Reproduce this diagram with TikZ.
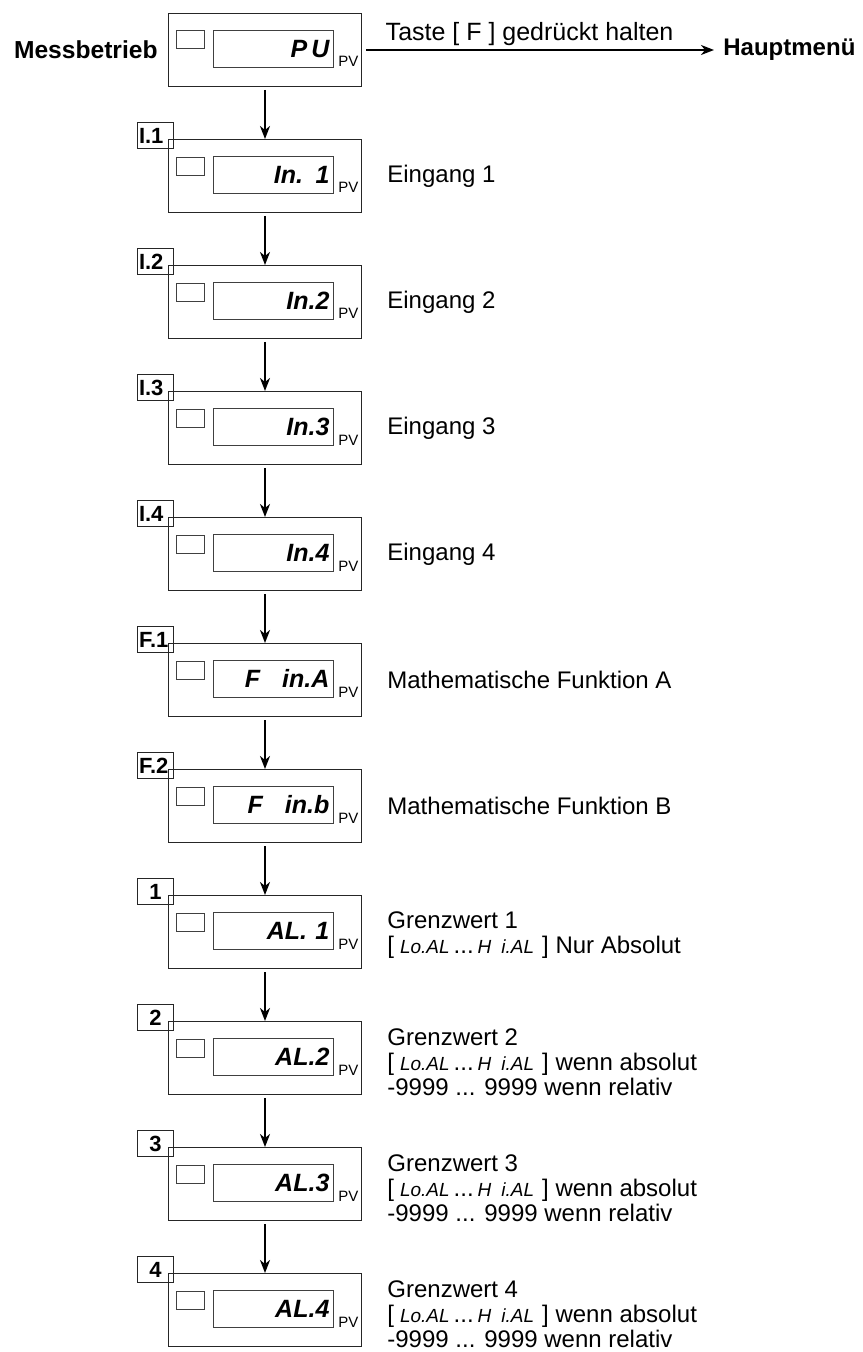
\documentclass[tikz,border=0pt]{standalone}
\usepackage{fontspec}
\setmainfont{Liberation Sans}
\usetikzlibrary{arrows.meta,positioning}
\newcommand{\segfont}{\bfseries\itshape}
\newcommand{\segtxt}[1]{{\itshape\fontsize{9.5}{10}\selectfont #1}}

\begin{document}
\begin{tikzpicture}[x=0.5pt, y=-0.5pt,
    box/.style={draw=black!85, line width=0.5pt, minimum width=96.5pt, minimum height=36.5pt, inner sep=0pt, anchor=north west},
    lamp/.style={draw=black!75, line width=0.4pt, minimum width=14pt, minimum height=9pt, inner sep=0pt, anchor=north west},
    disp/.style={draw=black!75, line width=0.4pt, minimum height=18.5pt, text width=56pt, inner xsep=2pt, inner ysep=0pt, align=right, anchor=north west, font=\segfont\fontsize{12.5}{13}\selectfont},
    pv/.style={anchor=base west, inner sep=0pt, font=\fontsize{7.5}{8}\selectfont},
    tag/.style={draw=black!85, line width=0.5pt, minimum height=13pt, text width=16.5pt, inner xsep=0.75pt, inner ysep=0pt, align=left, anchor=north west, font=\bfseries\fontsize{11}{12}\selectfont},
    info/.style={inner sep=0pt, align=left, font=\fontsize{12}{12.5}\selectfont},
    flow/.style={line width=1pt, -{Stealth[length=6.5pt, width=5pt, inset=2pt]}}]
    \useasboundingbox (0,0) rectangle (862,1352);
    %\draw[help lines, step=50] (0,0) grid (862,1352); %help grid
    % Messbetrieb
    \coordinate (B0) at (168,13);
    \node[box] (b0) at (B0) {};
    \node[lamp] (l0) at ([shift={(8,17)}]B0) {};
    \node[disp] (d0) at ([shift={(45,17)}]B0) {P\,U};
    \node[pv] (p0) at ([shift={(170,54)}]B0) {PV};
    \node[info, left=5pt of b0, font=\bfseries\fontsize{12.3}{12}\selectfont] (mb) {Messbetrieb};
    \node[inner xsep=4.5pt, inner ysep=0pt, anchor=west, font=\bfseries\fontsize{12}{12}\selectfont] (hm) at ([xshift=176pt]b0.east) {Hauptmenü};
    \draw[flow] ([xshift=2pt]b0.east) -- node[pos=0.47, above=1.5pt, inner sep=0pt, font=\fontsize{12.5}{12}\selectfont] (taste) {Taste [ F ] gedrückt halten} (hm.west);
    % Eingang 1
    \coordinate (B1) at (168,139);
    \node[box] (b1) at (B1) {};
    \node[lamp] (l1) at ([shift={(8,18)}]B1) {};
    \node[disp] (d1) at ([shift={(45,17)}]B1) {In. 1};
    \node[pv] (p1) at ([shift={(170,54)}]B1) {PV};
    \node[tag] (t1) at ([shift={(-31,-17)}]B1) {I.1};
    \node[info, right=12.5pt of b1] (e1) {Eingang 1};
    % Eingang 2
    \coordinate (B2) at (168,265);
    \node[box] (b2) at (B2) {};
    \node[lamp] (l2) at ([shift={(8,18)}]B2) {};
    \node[disp] (d2) at ([shift={(45,17)}]B2) {In.2};
    \node[pv] (p2) at ([shift={(170,54)}]B2) {PV};
    \node[tag] (t2) at ([shift={(-31,-17)}]B2) {I.2};
    \node[info, right=12.5pt of b2] (e2) {Eingang 2};
    % Eingang 3
    \coordinate (B3) at (168,391);
    \node[box] (b3) at (B3) {};
    \node[lamp] (l3) at ([shift={(8,18)}]B3) {};
    \node[disp] (d3) at ([shift={(45,17)}]B3) {In.3};
    \node[pv] (p3) at ([shift={(170,54)}]B3) {PV};
    \node[tag] (t3) at ([shift={(-31,-17)}]B3) {I.3};
    \node[info, right=12.5pt of b3] (e3) {Eingang 3};
    % Eingang 4
    \coordinate (B4) at (168,517);
    \node[box] (b4) at (B4) {};
    \node[lamp] (l4) at ([shift={(8,18)}]B4) {};
    \node[disp] (d4) at ([shift={(45,17)}]B4) {In.4};
    \node[pv] (p4) at ([shift={(170,54)}]B4) {PV};
    \node[tag] (t4) at ([shift={(-31,-17)}]B4) {I.4};
    \node[info, right=12.5pt of b4] (e4) {Eingang 4};
    % Funktion A
    \coordinate (B5) at (168,643);
    \node[box] (b5) at (B5) {};
    \node[lamp] (l5) at ([shift={(8,18)}]B5) {};
    \node[disp] (d5) at ([shift={(45,17)}]B5) {F\hspace{11pt}in.A};
    \node[pv] (p5) at ([shift={(170,54)}]B5) {PV};
    \node[tag] (t5) at ([shift={(-31,-17)}]B5) {F.1};
    \node[info, right=12.5pt of b5] (e5) {Mathematische Funktion A};
    % Funktion B
    \coordinate (B6) at (168,769);
    \node[box] (b6) at (B6) {};
    \node[lamp] (l6) at ([shift={(8,18)}]B6) {};
    \node[disp] (d6) at ([shift={(45,17)}]B6) {F\hspace{11pt}in.b};
    \node[pv] (p6) at ([shift={(170,54)}]B6) {PV};
    \node[tag] (t6) at ([shift={(-31,-17)}]B6) {F.2};
    \node[info, right=12.5pt of b6] (e6) {Mathematische Funktion B};
    % Grenzwert 1
    \coordinate (B7) at (168,895);
    \node[box] (b7) at (B7) {};
    \node[lamp] (l7) at ([shift={(8,18)}]B7) {};
    \node[disp] (d7) at ([shift={(45,17)}]B7) {AL. 1};
    \node[pv] (p7) at ([shift={(170,54)}]B7) {PV};
    \node[tag, align=center] (t7) at ([shift={(-31,-17)}]B7) {1};
    \node[info, right=12.5pt of b7, yshift=-1.5pt] (e7) {Grenzwert 1\\{[}\hspace{3pt}\segtxt{Lo.AL}\,...\,\segtxt{H\hspace{5pt}i.AL}\hspace{4pt}] Nur Absolut};
    % Grenzwert 2
    \coordinate (B8) at (168,1021);
    \node[box] (b8) at (B8) {};
    \node[lamp] (l8) at ([shift={(8,18)}]B8) {};
    \node[disp] (d8) at ([shift={(45,17)}]B8) {AL.2};
    \node[pv] (p8) at ([shift={(170,54)}]B8) {PV};
    \node[tag, align=center] (t8) at ([shift={(-31,-17)}]B8) {2};
    \node[info, right=12.5pt of b8, yshift=-2pt] (e8) {Grenzwert 2\\{[}\hspace{3pt}\segtxt{Lo.AL}\,...\,\segtxt{H\hspace{5pt}i.AL}\hspace{4pt}] wenn absolut\\-9999 ... 9999 wenn relativ};
    % Grenzwert 3
    \coordinate (B9) at (168,1147);
    \node[box] (b9) at (B9) {};
    \node[lamp] (l9) at ([shift={(8,18)}]B9) {};
    \node[disp] (d9) at ([shift={(45,17)}]B9) {AL.3};
    \node[pv] (p9) at ([shift={(170,54)}]B9) {PV};
    \node[tag, align=center] (t9) at ([shift={(-31,-17)}]B9) {3};
    \node[info, right=12.5pt of b9, yshift=-2pt] (e9) {Grenzwert 3\\{[}\hspace{3pt}\segtxt{Lo.AL}\,...\,\segtxt{H\hspace{5pt}i.AL}\hspace{4pt}] wenn absolut\\-9999 ... 9999 wenn relativ};
    % Grenzwert 4
    \coordinate (B10) at (168,1273);
    \node[box] (b10) at (B10) {};
    \node[lamp] (l10) at ([shift={(8,18)}]B10) {};
    \node[disp] (d10) at ([shift={(45,17)}]B10) {AL.4};
    \node[pv] (p10) at ([shift={(170,54)}]B10) {PV};
    \node[tag, align=center] (t10) at ([shift={(-31,-17)}]B10) {4};
    \node[info, right=12.5pt of b10, yshift=-2pt] (e10) {Grenzwert 4\\{[}\hspace{3pt}\segtxt{Lo.AL}\,...\,\segtxt{H\hspace{5pt}i.AL}\hspace{4pt}] wenn absolut\\-9999 ... 9999 wenn relativ};
    % arrows...
    \draw[flow] ([yshift=-1.5pt]b0.south) -- (b1.north);
    \draw[flow] ([yshift=-1.5pt]b1.south) -- (b2.north);
    \draw[flow] ([yshift=-1.5pt]b2.south) -- (b3.north);
    \draw[flow] ([yshift=-1.5pt]b3.south) -- (b4.north);
    \draw[flow] ([yshift=-1.5pt]b4.south) -- (b5.north);
    \draw[flow] ([yshift=-1.5pt]b5.south) -- (b6.north);
    \draw[flow] ([yshift=-1.5pt]b6.south) -- (b7.north);
    \draw[flow] ([yshift=-1.5pt]b7.south) -- (b8.north);
    \draw[flow] ([yshift=-1.5pt]b8.south) -- (b9.north);
    \draw[flow] ([yshift=-1.5pt]b9.south) -- (b10.north);
\end{tikzpicture}
\end{document}
